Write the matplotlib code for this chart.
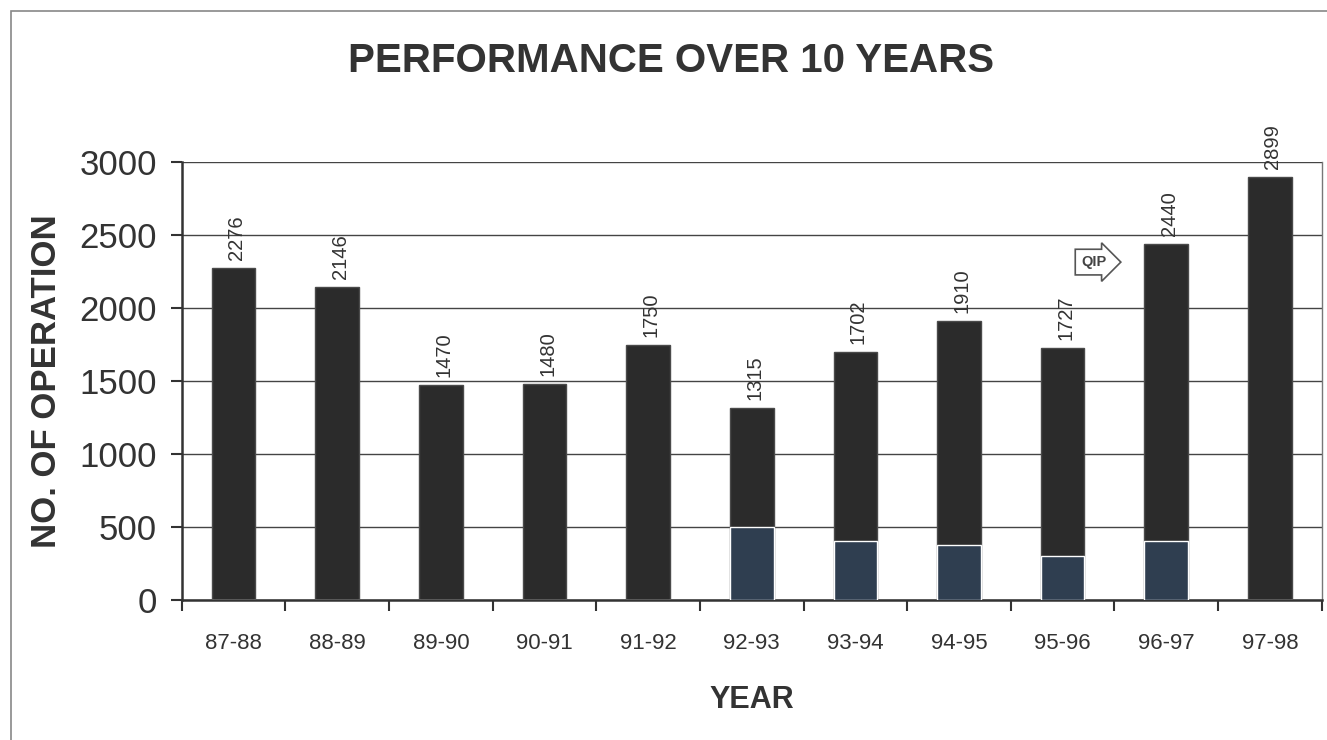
import matplotlib.pyplot as plt
from matplotlib.patches import Rectangle

plt.rcParams['font.family'] = ['Liberation Sans', 'DejaVu Sans']

# Data
years = ["87-88", "88-89", "89-90", "90-91", "91-92", "92-93",
         "93-94", "94-95", "95-96", "96-97", "97-98"]
operations = [2276, 2146, 1470, 1480, 1750, 1315, 1702, 1910, 1727, 2440, 2899]
# bluish lower part visible on some bars in the scan
base_part = [0, 0, 0, 0, 0, 500, 405, 378, 302, 404, 0]
y_ticks = [0, 500, 1000, 1500, 2000, 2500, 3000]

BAR_COLOR = "#2b2b2b"
BASE_COLOR = "#2f3e50"


def main():
    fig = plt.figure(figsize=(13.27, 7.40), dpi=100)
    ax = fig.add_axes([0.137, 0.189, 0.859, 0.592])

    x = list(range(len(years)))
    ax.bar(x, operations, width=0.42, color=BAR_COLOR,
           edgecolor="#4a4a4a", linewidth=1.0, zorder=3)
    ax.bar(x, base_part, width=0.42, color=BASE_COLOR,
           edgecolor="white", linewidth=1.0, zorder=4)

    # value labels, rotated like the original
    for xi, val in zip(x, operations):
        ax.text(xi + 0.03, val + 55, str(val), rotation=90, ha="center",
                va="bottom", fontsize=14.5, color="#333333", zorder=5)

    # QIP arrow marker
    ax.text(8.3, 2315, "QIP", fontsize=10.5, fontweight="bold", color="#444444",
            ha="center", va="center", zorder=5,
            bbox=dict(boxstyle="rarrow,pad=0.4", fc="white", ec="#555555", lw=1.2))

    ax.set_xlim(-0.5, len(years) - 0.5)
    ax.set_ylim(0, 3000)
    ax.set_yticks(y_ticks)
    ax.set_yticklabels([str(t) for t in y_ticks], fontsize=25, color="#333333")
    ax.yaxis.grid(True, color="#444444", linewidth=1.0, zorder=0)

    # category labels in the middle, tick marks at boundaries
    ax.set_xticks(x)
    ax.set_xticklabels(years, fontsize=16, color="#333333")
    ax.tick_params(axis="x", length=0, pad=24)
    ax.set_xticks([i - 0.5 for i in range(len(years) + 1)], minor=True)
    ax.tick_params(axis="x", which="minor", length=8, width=1.5, direction="out",
                   color="#333333")
    ax.tick_params(axis="y", length=8, width=1.5, direction="out", color="#333333",
                   pad=10)

    ax.spines["top"].set_visible(False)
    ax.spines["right"].set_color("#777777")
    ax.spines["right"].set_linewidth(1.0)
    ax.spines["left"].set_linewidth(1.8)
    ax.spines["left"].set_color("#333333")
    ax.spines["bottom"].set_linewidth(1.8)
    ax.spines["bottom"].set_color("#333333")

    ax.set_xlabel("YEAR", fontsize=22, fontweight="bold", color="#333333", labelpad=22)
    ax.set_ylabel("NO. OF OPERATION", fontsize=25, fontweight="bold", color="#333333",
                  labelpad=12)
    fig.text(0.506, 0.918, "PERFORMANCE OVER 10 YEARS", fontsize=29,
             fontweight="bold", color="#333333", ha="center", va="center")

    # frame of the scanned page
    fig.patches.append(Rectangle((0.008, -0.05), 1.2, 1.035, transform=fig.transFigure,
                                 fill=False, edgecolor="#888888", linewidth=1.2))

    fig.savefig("out.png", dpi=100, facecolor="white")


if __name__ == "__main__":
    main()
